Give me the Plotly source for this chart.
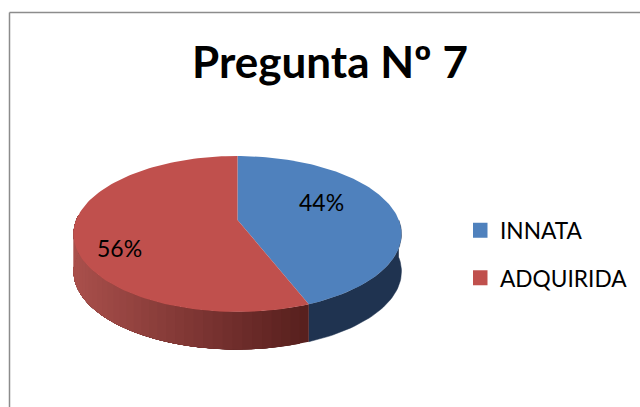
import math
import plotly.graph_objects as go

title = "Pregunta Nº 7"
categories = ["INNATA", "ADQUIRIDA"]
values = [44, 56]
top_colors = ["#4f81bd", "#c0504d"]

# projection of the tilted disc onto the page (pixels)
AX, AY = 237.5, 220.0
SX, SY, P = 161.3, 75.5, -0.1795
DEPTH = 37.5
LABEL_POS = [(321, 202), (119, 248)]


def proj(theta):
    u, v = math.sin(theta), -math.cos(theta)
    d = 1 + P * v
    return AX + SX * u / d, AY + SY * v / d


def arc(a0, a1, n):
    return [proj(a0 + (a1 - a0) * i / n) for i in range(n + 1)]


def mix(c0, c1, t):
    t = max(0.0, min(1.0, t))
    return "rgb(%d,%d,%d)" % tuple(round(a + (b - a) * t) for a, b in zip(c0, c1))


total = sum(values)
angles = [0.0]
for val in values:
    angles.append(angles[-1] + 2 * math.pi * val / total)

fig = go.Figure()


def polygon(pts, color, line=0):
    fig.add_trace(go.Scatter(
        x=[p[0] for p in pts], y=[p[1] for p in pts], mode="lines", fill="toself",
        fillcolor=color, line=dict(color=color, width=line), showlegend=False, hoverinfo="skip"))


# side wall of the first slice: flat dark blue (front half only)
a0 = angles[0] + math.pi / 2
blue = arc(a0, angles[1], 40)
polygon(blue + [(x, y + DEPTH) for x, y in reversed(blue)], "#1f3350", 0.5)

# side wall of the second slice: shaded in bands, each band painted over the previous one
a_end = 2 * math.pi * 0.76
strips = 40
for i in range(strips):
    t0 = angles[1] + (a_end - angles[1]) * i / strips
    seg = arc(t0, a_end, 60)
    col = mix((88, 32, 30), (170, 80, 76), (308 - seg[0][0]) / 235)
    polygon(seg + [(x, y + DEPTH) for x, y in reversed(seg)], col)

# top faces
for k in range(len(values)):
    pts = [(AX, AY)] + arc(angles[k], angles[k + 1], 120) + [(AX, AY)]
    polygon(pts, top_colors[k])

# legend entries
for k, name in enumerate(categories):
    fig.add_trace(go.Scatter(
        x=[None], y=[None], mode="markers", name=name, legendgroup=name,
        marker=dict(symbol="square", size=15, color=top_colors[k])))

annotations = [
    dict(x=LABEL_POS[k][0], y=LABEL_POS[k][1], xref="x", yref="y",
         text=f"{round(100 * values[k] / total)}%", showarrow=False,
         font=dict(family="Lato", size=23, color="black"))
    for k in range(len(values))
]

frame = dict(color="#8c8c8c", width=1.5)
fig.update_layout(
    width=640, height=407, margin=dict(l=0, r=0, t=0, b=0), autosize=False,
    paper_bgcolor="white", plot_bgcolor="white",
    xaxis=dict(range=[0, 640], visible=False, fixedrange=True),
    yaxis=dict(range=[407, 0], visible=False, fixedrange=True),
    title=dict(text=f"<b>{title}</b>", x=330 / 640, xanchor="center", y=1 - 63 / 407, yanchor="middle",
               font=dict(family="Lato", size=44, color="black")),
    legend=dict(x=473 / 640, y=1 - 209 / 407, xanchor="left", yanchor="top", tracegroupgap=15,
                indentation=-13, entrywidth=135, entrywidthmode="pixels",
                bgcolor="rgba(0,0,0,0)", font=dict(family="Lato", size=22.7, color="black")),
    annotations=annotations,
    shapes=[
        dict(type="line", xref="x", yref="y", x0=9.5, y0=12.5, x1=9.5, y1=407, line=frame, layer="below"),
        dict(type="line", xref="x", yref="y", x0=9.5, y0=12.5, x1=640, y1=12.5, line=frame, layer="below"),
    ],
)
fig.write_html("out.html", config={"displayModeBar": False},
               post_script="document.body.style.margin='0';document.body.style.overflow='hidden';")
